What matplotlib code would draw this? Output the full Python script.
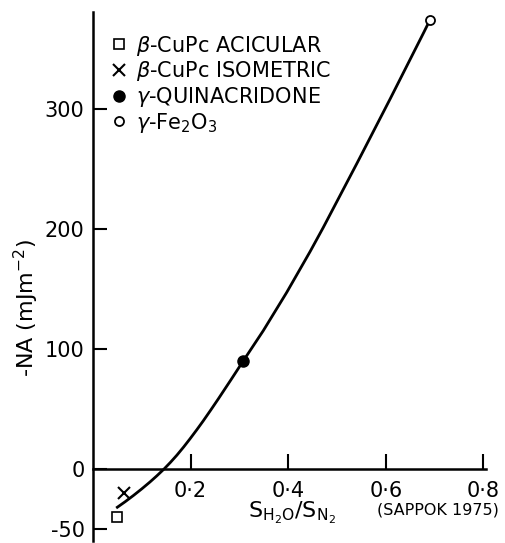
import matplotlib
matplotlib.use("Agg")
import numpy as np
from matplotlib import pyplot as plt

# data (Sappok 1975)
curve_x = [0.050, 0.066, 0.083, 0.100, 0.117, 0.131, 0.146, 0.159, 0.172, 0.186, 0.199,
           0.213, 0.226, 0.242, 0.257, 0.283, 0.308, 0.349, 0.397, 0.445, 0.472,
           0.541, 0.609, 0.678, 0.691]
curve_y = [-32.0, -27.4, -22.2, -16.7, -10.9, -5.8, 0.0, 5.5, 11.4, 18.3, 25.1,
           32.7, 40.0, 49.4, 58.4, 74.4, 90.0, 115.2, 147.1, 181.2, 201.3,
           254.8, 308.5, 364.0, 374.7]

acicular_x, acicular_y = [0.05], [-40]
isometric_x, isometric_y = [0.064], [-20]
quinacridone_x, quinacridone_y = [0.308], [90]
fe2o3_x, fe2o3_y = [0.691], [374]

labels = [r"$\beta$-CuPc ACICULAR", r"$\beta$-CuPc ISOMETRIC",
          r"$\gamma$-QUINACRIDONE", r"$\gamma$-Fe$_2$O$_3$"]
x_ticks = [0.2, 0.4, 0.6, 0.8]
x_ticklabels = ["0·2", "0·4", "0·6", "0·8"]
y_ticks = [-50, 0, 100, 200, 300]
y_ticklabels = ["-50", "0", "100", "200", "300"]

plt.rcParams["font.family"] = "DejaVu Sans"

fig = plt.figure(figsize=(5.05, 5.43), dpi=100)
ax = fig.add_axes([0.184, 0.004, 0.778, 0.974])

ax.plot(curve_x, curve_y, color="black", lw=2.0, zorder=2, solid_joinstyle="round")

h1, = ax.plot(acicular_x, acicular_y, ls="none", marker="s", ms=7, mfc="white",
              mec="black", mew=1.2, label=labels[0])
h2, = ax.plot(isometric_x, isometric_y, ls="none", marker="x", ms=8, color="black",
              mew=1.5, label=labels[1])
h3, = ax.plot(quinacridone_x, quinacridone_y, ls="none", marker="o", ms=8, color="black",
              label=labels[2], zorder=3)
h4, = ax.plot(fe2o3_x, fe2o3_y, ls="none", marker="o", ms=6.5, mfc="white",
              mec="black", mew=1.3, label=labels[3], zorder=3)

ax.set_xlim(0, 0.805)
ax.set_ylim(-60, 381)

for s in ["top", "right"]:
    ax.spines[s].set_visible(False)
ax.spines["bottom"].set_position(("data", 0))
ax.spines["left"].set_linewidth(1.8)
ax.spines["bottom"].set_linewidth(1.8)

ax.set_xticks(x_ticks)
ax.set_xticklabels(x_ticklabels)
ax.set_yticks(y_ticks)
ax.set_yticklabels(y_ticklabels)
ax.tick_params(axis="x", direction="in", length=11, width=1.5, pad=9, labelsize=15)
ax.tick_params(axis="y", direction="in", length=10, width=1.5, pad=6, labelsize=15)

leg = ax.legend(handles=[h1, h2, h3, h4], loc="upper left",
                bbox_to_anchor=(0.03, 0.975), frameon=False, fontsize=15,
                handlelength=0.6, handletextpad=0.5, labelspacing=0.08,
                borderaxespad=0)

ax.set_ylabel(r"-NA (mJm$^{-2}$)", fontsize=16)
ax.yaxis.set_label_coords(-0.132, 0.44)
ax.text(0.408, -37, r"S$_{\mathrm{H_2O}}$/S$_{\mathrm{N_2}}$", fontsize=16,
        ha="center", va="center")
ax.text(0.706, -34, "(SAPPOK 1975)", fontsize=11.5, ha="center", va="center")

fig.savefig("out.png", dpi=100)
